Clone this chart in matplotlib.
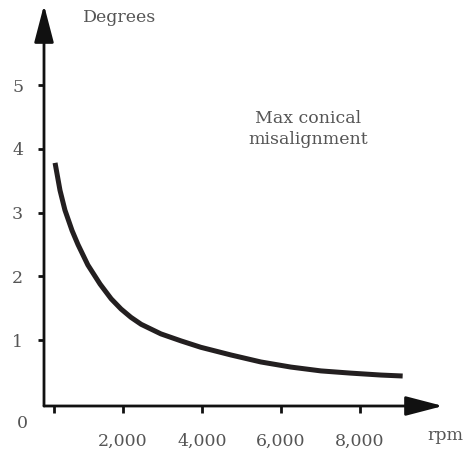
import matplotlib
matplotlib.use("Agg")
import matplotlib.pyplot as plt

rpm = [280, 405, 530, 710, 860, 1110, 1420, 1700, 1950, 2200, 2460, 2960, 3470,
       3970, 4730, 5490, 6250, 7010, 7770, 8530, 9080]
degrees = [3.78, 3.35, 3.04, 2.72, 2.50, 2.18, 1.88, 1.65, 1.49, 1.36, 1.25, 1.10, 0.99,
           0.89, 0.77, 0.66, 0.58, 0.52, 0.485, 0.455, 0.44]
xticks = [250, 2000, 4000, 6000, 8000]
xtick_labels = ["", "2,000", "4,000", "6,000", "8,000"]
yticks = [1, 2, 3, 4, 5]
ytick_labels = ["1", "2", "3", "4", "5"]

W, H = 476, 449
fig = plt.figure(figsize=(W / 100, H / 100), dpi=100)
plt.rcParams['font.family'] = ['DejaVu Serif']
txt_color = "#555555"
fs = 12.5

# axes frame: x from 44px to 443px, y from 5px to 406px (top)
left, right, top, bottom = 44, 443, 5, 406
ax = fig.add_axes([left / W, 1 - bottom / H, (right - left) / W, (bottom - top) / H])
ax.set_xlim(0, (right - left) / 0.0395)
ax.set_ylim(-0.03, (404 - 5) / 63.8)
for s in ax.spines.values():
    s.set_visible(False)
ax.patch.set_alpha(0)

ax.plot(rpm, degrees, color="#231f20", lw=3.6, solid_capstyle="butt", solid_joinstyle="round")

# axes lines with arrowheads
ax.annotate("", xy=(1, 0), xycoords="axes fraction", xytext=(0, 0),
            arrowprops=dict(arrowstyle="-|>,head_length=2.3,head_width=0.6", color="#111111", lw=2,
                            shrinkA=0, shrinkB=0))
ax.annotate("", xy=(0, 1), xycoords="axes fraction", xytext=(0, 0),
            arrowprops=dict(arrowstyle="-|>,head_length=2.3,head_width=0.6", color="#111111", lw=2,
                            shrinkA=0, shrinkB=0))

ax.set_xticks(xticks)
ax.set_xticklabels(xtick_labels)
ax.set_yticks(yticks)
ax.set_yticklabels(ytick_labels)
ax.tick_params(axis="x", direction="out", length=5, width=2, color="#111111", pad=14,
               labelsize=fs, labelcolor=txt_color)
ax.tick_params(axis="y", direction="out", length=4, width=2, color="#111111", pad=11,
               labelsize=fs, labelcolor=txt_color)

fig.text(22 / W, 1 - 423 / H, "0", ha="center", va="center", fontsize=fs, color=txt_color)
fig.text(83 / W, 1 - 17 / H, "Degrees", ha="left", va="center", fontsize=fs, color=txt_color)
fig.text(445 / W, 1 - 435 / H, "rpm", ha="center", va="center", fontsize=fs, color=txt_color)
fig.text(308 / W, 1 - 129 / H, "Max conical\nmisalignment", ha="center", va="center",
         fontsize=fs, color=txt_color, linespacing=1.35)

fig.savefig("out.png", dpi=100)
